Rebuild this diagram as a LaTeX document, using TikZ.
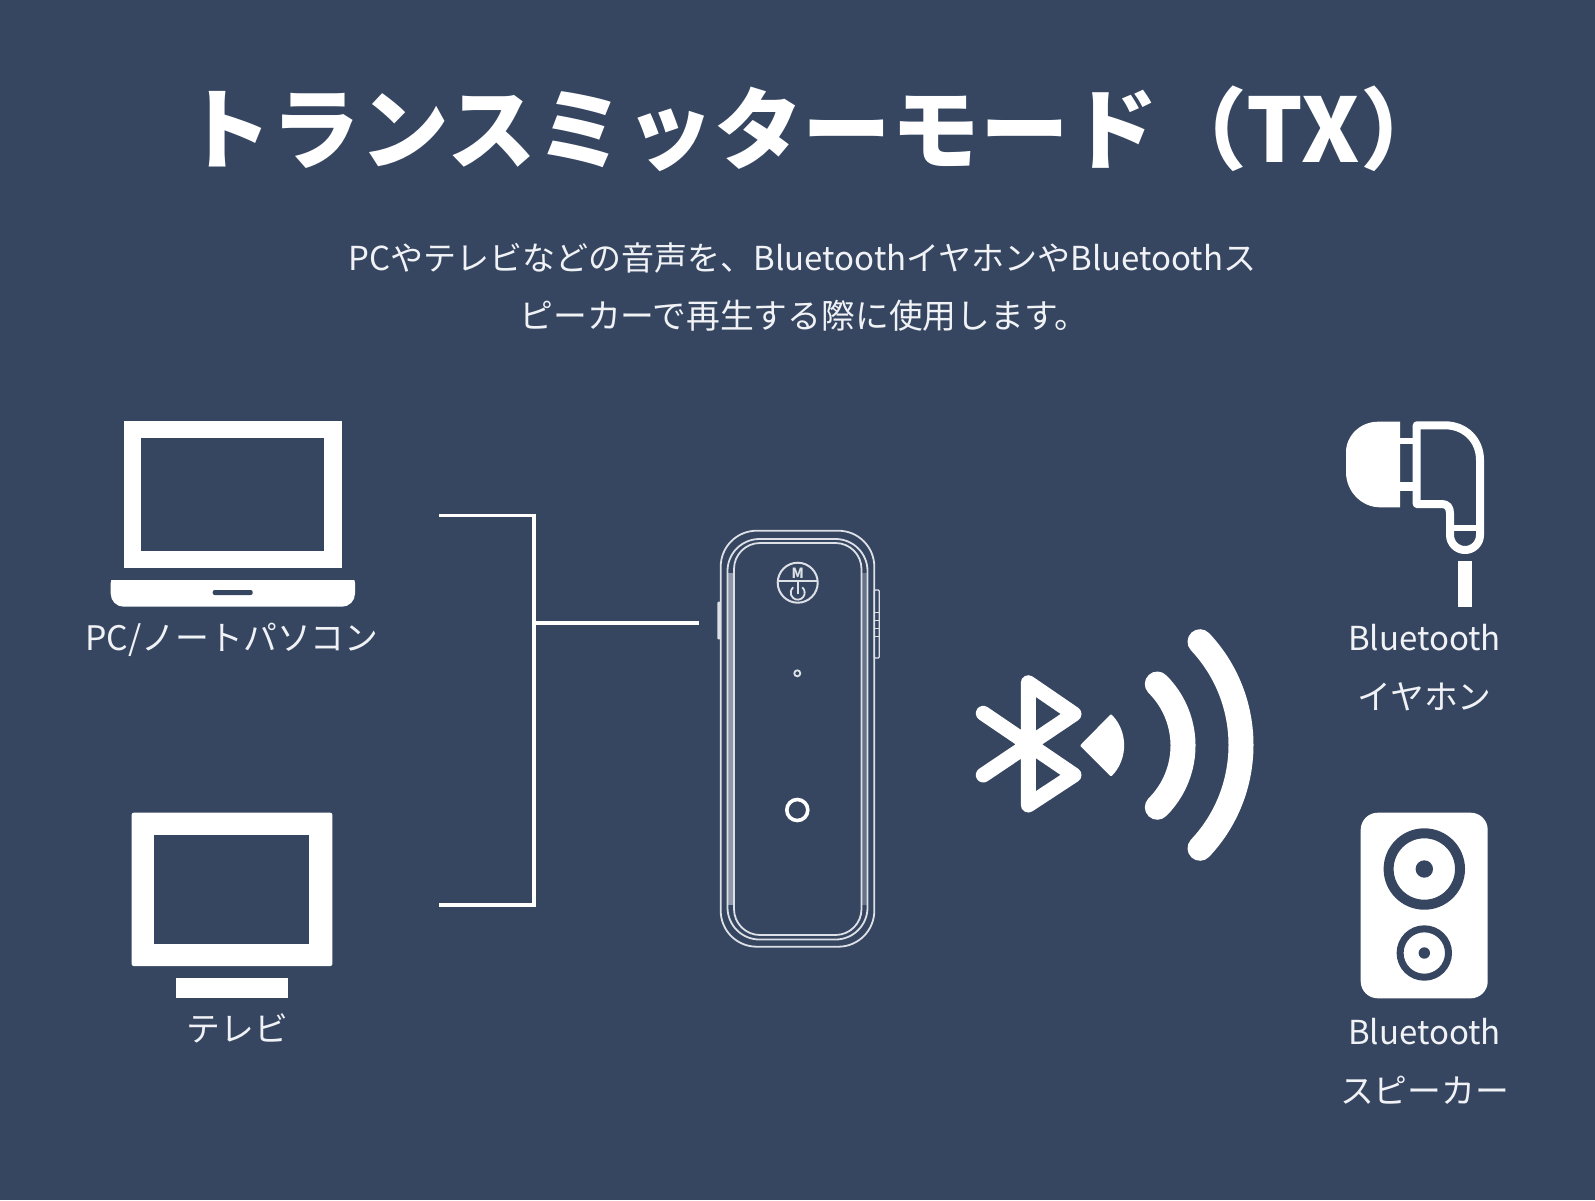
\documentclass[tikz,border=0pt]{standalone}
\usepackage{fontspec}
\usepackage{xcolor}
\usepackage{tikz}
\setmainfont{Noto Sans CJK JP}
\definecolor{txNavy}{HTML}{364661}
\definecolor{txBand}{HTML}{8E98A8}
\definecolor{txEdge}{HTML}{DDE1E7}
\definecolor{txSoft}{HTML}{F0F2F5}

\begin{document}
\begin{tikzpicture}[
  x=.5pt,y=-.5pt,
  titletext/.style={font=\bfseries\fontsize{44.4}{44.4}\selectfont,color=white,text height=34pt,text depth=4pt,inner sep=0pt},
  bodytext/.style={font=\fontsize{16.5}{16.5}\selectfont,color=txSoft,text height=12pt,text depth=3pt,inner sep=0pt},
  kanatext/.style={bodytext,font=\fontsize{16.9}{16.9}\selectfont},
  wire/.style={draw=white,line width=1.6pt},
  solid/.style={fill=white},
  hole/.style={fill=txNavy},
  shell/.style={draw=txEdge,line width=.9pt},
  wave/.style={draw=white,line width=12.5pt,line cap=round},
  rune/.style={draw=white,line width=7.5pt,line cap=round,line join=round},
  budline/.style={draw=white,line width=4pt,line join=round}
]
  \fill[txNavy] (0,0) rectangle (1595,1200);
  \node[titletext] (title) at (816,132) {トランスミッターモード（TX）};
  \node[bodytext] (introA) at (802.5,261) {PCやテレビなどの音声を、BluetoothイヤホンやBluetoothス};
  \node[kanatext] (introB) at (804,319) {ピーカーで再生する際に使用します。};

  % laptop
  \fill[solid] (123.5,421) rectangle (341.5,567.7);
  \fill[hole] (141,438.3) rectangle (324.3,551);
  \fill[solid,rounded corners=6.5pt] (110.7,570) -- (110.7,606.7) -- (355,606.7) -- (355,570) -- cycle;
  \fill[hole] (105,570) rectangle (360,580);
  \fill[hole,rounded corners=1pt] (212.7,590) rectangle (252.7,595);
  \node[kanatext] (laptopLabel) at (232,641.5) {PC/ノートパソコン};

  % tv
  \fill[solid,rounded corners=1pt] (131.7,812.7) rectangle (332.3,966);
  \fill[hole] (154,835) rectangle (309.3,943.7);
  \fill[solid] (175.7,978) rectangle (288,998);
  \node[kanatext] (tvLabel) at (237.5,1032) {テレビ};

  % bracket
  \coordinate (laptopEnd) at (439.3,515.3);
  \coordinate (tvEnd) at (439.3,905);
  \coordinate (joint) at (534,623);
  \coordinate (deviceEnd) at (699.3,623);
  \draw[wire] (laptopEnd) -| (joint) |- (tvEnd);
  \draw[wire] (joint) -- (deviceEnd);

  % device
  \fill[txBand] (727.5,573) rectangle (734,905);
  \fill[txBand!55!txNavy] (861.5,573) rectangle (867.5,905);
  \draw[shell,rounded corners=18pt] (720.7,530.7) rectangle (874.3,946.7);
  \draw[shell,rounded corners=16pt] (727.5,539) rectangle (867.5,939.5);
  \draw[shell,rounded corners=13pt] (734,543) rectangle (861.5,935);
  \fill[txEdge,rounded corners=.5pt] (717.3,601.7) rectangle (720.7,639.3);
  \draw[shell,line width=.6pt,rounded corners=.5pt] (874.3,590) rectangle (879.3,658);
  \foreach \y in {612,620,628,636}{
    \draw[shell,line width=.5pt] (874.3,\y) -- (879.3,\y);
  }
  \draw[shell,line width=1pt] (797.7,582.7) circle (20);
  \draw[shell] (778,581) -- (817.5,581);
  \node[font=\fontsize{7}{7}\selectfont\bfseries,color=txEdge,inner sep=0pt] (modeKey) at (797.7,573.5) {M};
  \draw[shell] (802.2,587.3) arc (-50:230:7);
  \draw[shell] (797.7,581) -- (797.7,594);
  \draw[shell] (797.3,673.3) circle (3);
  \draw[draw=white,line width=1.8pt] (797.3,810) circle (10.5);

  % bluetooth
  \draw[rune] (983.3,775) -- (1074,714) -- (1028.3,682.7) -- (1028.3,805) -- (1074,775) -- (983.3,713.3);
  \fill[solid,rounded corners=.5pt] (1080,745.5) -- (1111,714) arc (-45:45:44.3) -- cycle;
  \draw[wave] (1157.3,684) arc (-45.3:45.3:86.7);
  \draw[wave] (1200,641.7) arc (-43.3:43.3:150.6);

  % earbud
  \fill[solid] (1400,421.7) -- (1378,421.7) .. controls (1360,421.7) and (1346,436) .. (1346,452) -- (1346,472) .. controls (1346,492) and (1362,507.3) .. (1380,507.3) -- (1400,507.3) -- cycle;
  \fill[solid] (1400,437.5) rectangle (1414,444);
  \fill[solid] (1400,481.5) rectangle (1414,491);
  \draw[budline] (1416.7,425.3) -- (1445,425.3) .. controls (1465,425.3) and (1480,440) .. (1480,460) -- (1480,535) arc (0:180:15) -- (1450,513.3) .. controls (1450,507) and (1447,504) .. (1441.7,504) -- (1416.7,504) -- cycle;
  \draw[draw=white,line width=3pt] (1450,528.3) -- (1480,528.3);
  \fill[solid] (1458.3,560.7) rectangle (1471.7,606.7);
  \node[bodytext] (budLabelA) at (1424.5,641.5) {Bluetooth};
  \node[kanatext] (budLabelB) at (1424.5,700) {イヤホン};

  % speaker
  \fill[solid,rounded corners=8.5pt] (1360.7,812.7) rectangle (1487.7,998.3);
  \draw[draw=txNavy,line width=5pt] (1424.3,869) circle (35.7);
  \fill[hole] (1424.3,869) circle (8.7);
  \draw[draw=txNavy,line width=3.5pt] (1424.3,953) circle (24.2);
  \fill[hole] (1424.3,953) circle (5.7);
  \node[bodytext] (speakerLabelA) at (1424.5,1035) {Bluetooth};
  \node[kanatext] (speakerLabelB) at (1424.5,1094) {スピーカー};
\end{tikzpicture}
\end{document}
